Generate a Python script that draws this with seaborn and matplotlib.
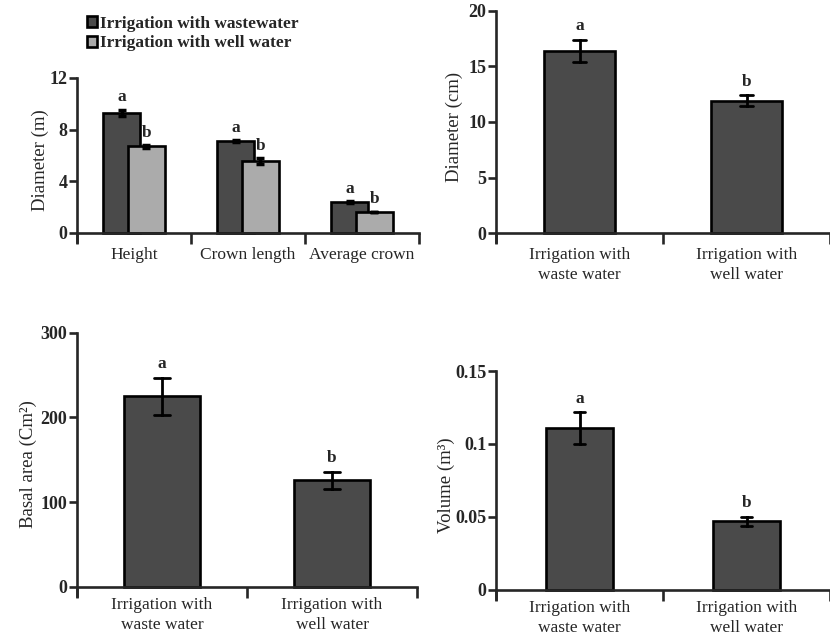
import numpy as np
import pandas as pd
import matplotlib
matplotlib.use("Agg")
import matplotlib.pyplot as plt
import seaborn as sns

# ---------------- data ----------------
p1_categories = ["Height", "Crown length", "Average crown"]
p1_groups = ["Irrigation with wastewater", "Irrigation with well water"]
p1_waste_mean = [9.3, 7.1, 2.4]
p1_waste_err = [0.25, 0.08, 0.1]
p1_well_mean = [6.7, 5.55, 1.65]
p1_well_err = [0.1, 0.22, 0.0]
p1_waste_letters = ["a", "a", "a"]
p1_well_letters = ["b", "b", "b"]

treat_labels = ["Irrigation with\nwaste water", "Irrigation with\nwell water"]
treat_letters = ["a", "b"]
dia_mean = [16.4, 11.9]
dia_err = [1.0, 0.5]
basal_mean = [225, 126]
basal_err = [22, 10]
vol_mean = [0.111, 0.047]
vol_err = [0.0108, 0.0032]

DARK = "#4a4a4a"
LIGHT = "#ababab"

sns.set_theme(style="ticks")
plt.rcParams["font.family"] = ["Liberation Serif", "DejaVu Serif"]
plt.rcParams["axes.linewidth"] = 1.9

W, H = 830, 639
fig = plt.figure(figsize=(W / 100, H / 100), dpi=100)


def fig_axes(left, right, top, bottom):
    return fig.add_axes([left / W, 1 - bottom / H, (right - left) / W, (bottom - top) / H])


def long_frame(cats, means, errs, group=None):
    rows = []
    for c, m, e in zip(cats, means, errs):
        for v in (m - e, m + e):
            rows.append({"cat": c, "val": v, "group": group})
    return pd.DataFrame(rows)


def style_axes(ax, ncat, xright, ybot, ytop, yticks, yticklabels, ylabel, labelpad, xpad):
    sns.despine(ax=ax)
    ax.spines["bottom"].set_position(("data", 0))
    ax.set_xlim(-0.5, xright)
    ax.set_ylim(ybot, ytop)
    ax.set_xticks(np.arange(ncat))
    ax.set_xticks(np.arange(ncat + 1) - 0.5, minor=True)
    ax.tick_params(axis="x", which="major", length=0, pad=xpad, labelsize=12.5)
    for t in ax.get_xticklabels():
        t.set_linespacing(1.3)
    ax.tick_params(axis="x", which="minor", length=8, width=1.9, direction="out")
    ax.set_yticks(yticks)
    ax.set_yticklabels(yticklabels, fontweight="bold")
    ax.tick_params(axis="y", length=6, width=1.9, direction="out", pad=1, labelsize=13)
    ax.set_xlabel("")
    ax.set_ylabel(ylabel, fontsize=13.5, labelpad=labelpad)


# ---------------- panel 1 ----------------
ax1 = fig_axes(77, 419, 78, 242)
df1 = pd.concat([
    long_frame(p1_categories, p1_waste_mean, p1_waste_err, p1_groups[0]),
    long_frame(p1_categories, p1_well_mean, p1_well_err, p1_groups[1]),
])
sns.barplot(data=df1, x="cat", y="val", hue="group", order=p1_categories,
            hue_order=p1_groups, palette=[DARK, LIGHT], saturation=1,
            width=0.43, gap=0, errorbar=("pi", 100), capsize=0.14,
            err_kws={"color": "black", "linewidth": 2.5, "solid_capstyle": "butt"},
            edgecolor="black", linewidth=1.9, ax=ax1)
# widen the dodged bars so they overlap like the original
for p in ax1.patches:
    if p.get_height() == 0 and p.get_width() == 0:
        continue
    cx = p.get_x() + p.get_width() / 2
    p.set_width(0.325)
    p.set_x(cx - 0.325 / 2)
offs = [-0.107, 0.107]
for gi, (means, errs, letters) in enumerate([(p1_waste_mean, p1_waste_err, p1_waste_letters),
                                             (p1_well_mean, p1_well_err, p1_well_letters)]):
    for i, (m, e, l) in enumerate(zip(means, errs, letters)):
        ax1.annotate(l, (i + offs[gi], m + e), xytext=(0, 3), textcoords="offset points",
                     ha="center", va="bottom", fontweight="bold", fontsize=12.5)
style_axes(ax1, 3, 2.5, -0.7, 12, [0, 4, 8, 12], ["0", "4", "8", "12"], "Diameter (m)", 0, 10)
sns.move_legend(ax1, "upper left", bbox_to_anchor=(87 / W, 1 - 16 / H),
                bbox_transform=fig.transFigure, frameon=False, title=None,
                prop={"weight": "bold", "size": 12.5}, handlelength=0.6,
                handleheight=0.6, handletextpad=0.15, labelspacing=0.2,
                borderpad=0, borderaxespad=0)


def single_panel(box, means, errs, xright, ybot, ytop, yticks, yticklabels, ylabel,
                 bar_w, capsize, labelpad, xpad):
    ax = fig_axes(*box)
    df = long_frame(treat_labels, means, errs)
    sns.barplot(data=df, x="cat", y="val", order=treat_labels, color=DARK,
                saturation=1, width=bar_w, errorbar=("pi", 100), capsize=capsize,
                err_kws={"color": "black", "linewidth": 2.0},
                edgecolor="black", linewidth=1.9, ax=ax)
    for i, (m, e, l) in enumerate(zip(means, errs, treat_letters)):
        ax.annotate(l, (i, m + e), xytext=(0, 4), textcoords="offset points",
                    ha="center", va="bottom", fontweight="bold", fontsize=12.5)
    style_axes(ax, 2, xright, ybot, ytop, yticks, yticklabels, ylabel, labelpad, xpad)
    return ax


# ---------------- panel 2 ----------------
single_panel((496, 830, 10.7, 242.2), dia_mean, dia_err, 1.45, -0.8, 20,
             [0, 5, 10, 15, 20], ["0", "5", "10", "15", "20"], "Diameter (cm)",
             0.42, 0.08, 4, 10)

# ---------------- panel 3 ----------------
single_panel((77, 417, 332.7, 595.7), basal_mean, basal_err, 1.5, -10.6, 300,
             [0, 100, 200, 300], ["0", "100", "200", "300"], "Basal area (Cm²)",
             0.45, 0.09, 2.5, 7.5)

# ---------------- panel 4 ----------------
single_panel((496, 830, 371, 598.8), vol_mean, vol_err, 1.42, -0.0062, 0.15,
             [0, 0.05, 0.1, 0.15], ["0", "0.05", "0.1", "0.15"], "Volume (m³)",
             0.40, 0.07, 0, 7.5)

fig.savefig("out.png", dpi=100)
